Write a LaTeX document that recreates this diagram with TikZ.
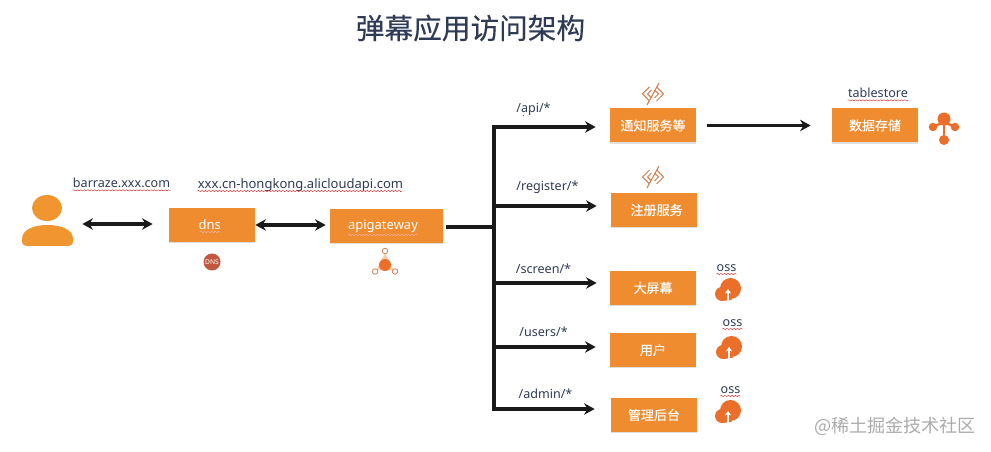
\documentclass[tikz,border=0pt]{standalone}
\usepackage{fontspec}
\setmainfont{Noto Sans}
\newfontfamily\cjk{Noto Sans CJK SC}
\newfontfamily\cjkheavy[FakeBold=0.25]{Noto Sans CJK SC}
\usetikzlibrary{arrows.meta,shadows,decorations.pathmorphing}
\definecolor{boxorange}{HTML}{EE8C2F}
\definecolor{personorange}{HTML}{F0952F}
\definecolor{iconorange}{HTML}{EB6F2B}
\definecolor{dnsred}{HTML}{C4573F}
\definecolor{chevron}{HTML}{D07F50}
\definecolor{inkblue}{HTML}{2F3B55}
\definecolor{linkblack}{HTML}{1A1A1A}
\definecolor{markgray}{HTML}{ABABAB}
\definecolor{ringbrown}{HTML}{CF8A62}
\definecolor{paleorange}{HTML}{F6CFA8}
\tikzset{
  every picture/.style={line join=round, >={Stealth[length=6pt,width=6.5pt]}},
  boxnode/.style={fill=boxorange,text=white,font=\fontsize{7.4}{9}\selectfont\cjkheavy,minimum width=1.72cm,minimum height=0.68cm,inner sep=0pt,drop shadow={shadow xshift=0pt,shadow yshift=-0.7pt,opacity=0.25}},
  lbl/.style={text=inkblue,font=\fontsize{7.15}{9}\selectfont,inner sep=0pt},
  link/.style={linkblack,line width=1.9pt},
  spell/.style={red!70!gray,line width=0.25pt,decorate,decoration={snake,amplitude=0.35pt,segment length=2pt}},
}
\begin{document}
\begin{tikzpicture}
\useasboundingbox (0,0) rectangle (19.820,9.040);
\node[font=\fontsize{16.3}{20}\selectfont\cjkheavy,text=inkblue,inner sep=0pt] (title) at (9.410,8.480) {弹幕应用访问架构};
\fill[personorange] (0.940,4.880) ellipse[x radius=0.300,y radius=0.260];
\fill[personorange] (0.560,4.120) .. controls (0.440,4.120) and (0.440,4.180) .. (0.440,4.260) .. controls (0.440,4.450) and (0.680,4.540) .. (0.950,4.540) .. controls (1.220,4.540) and (1.460,4.450) .. (1.460,4.260) .. controls (1.460,4.180) and (1.460,4.120) .. (1.340,4.120) -- cycle;
\node[minimum width=1.020cm,inner sep=0pt] (user) at (0.950,4.560) {};
\node[boxnode] (dns) at (4.240,4.540) {\hspace{-2.5pt}\rmfamily dns};
\node[boxnode,minimum width=2.260cm] (apigateway) at (7.730,4.520) {\hspace{-4pt}\rmfamily apigateway};
\node[boxnode] (notify) at (13.060,6.530) {通知服务等};
\node[boxnode] (store) at (17.500,6.530) {数据存储};
\node[boxnode] (register) at (13.080,4.840) {\hspace{3pt}注册服务};
\node[boxnode] (screen) at (13.060,3.280) {大屏幕};
\node[boxnode] (users) at (13.060,2.040) {用户};
\node[boxnode] (admin) at (13.080,0.740) {管理后台};
\node[lbl] (barraze) at (2.430,5.380) {barraze.xxx.com};
\node[lbl,font=\fontsize{7.42}{9}\selectfont] (aliapi) at (6.010,5.340) {xxx.cn-hongkong.alicloudapi.com};
\node[lbl] (apipath) at (10.670,6.860) {/api/*};
\node[lbl] (registerpath) at (10.950,5.300) {/register/*};
\node[lbl] (screenpath) at (10.870,3.660) {/screen/*};
\node[lbl] (userspath) at (10.870,2.400) {/users/*};
\node[lbl] (adminpath) at (10.910,1.160) {/admin/*};
\node[lbl] (tablestore) at (17.560,7.180) {tablestore};
\node[lbl] (oss1) at (14.530,3.680) {oss};
\node[lbl] (oss2) at (14.650,2.580) {oss};
\node[lbl] (oss3) at (14.610,1.240) {oss};
\node[font=\fontsize{10.3}{14}\selectfont\cjk,text=markgray,inner sep=0pt] (watermark) at (17.900,0.520) {@稀土掘金技术社区};
\foreach \n in {barraze,aliapi,tablestore,oss1,oss2,oss3}
  \draw[spell] ([yshift=-1.5pt]\n.base west) -- ([yshift=-1.5pt]\n.base east);
\draw[spell] ([xshift=4pt,yshift=-1.5pt]apipath.base west) -- ([xshift=-6pt,yshift=-1.5pt]apipath.base);
\draw[spell,white!70!red] (4.000,4.400) -- (4.420,4.400);
\draw[spell,white!70!red] (6.960,4.340) -- (8.360,4.340);
\draw[link,<->,shorten <=0.180cm,shorten >=0.320cm] (user.east) -- (user.east -| dns.west);
\draw[link,<->,shorten >=0.080cm] (dns.east) -- (dns.east -| apigateway.west);
\coordinate (busmid) at (9.880,4.500);
\coordinate (bustop) at (9.880,6.500);
\coordinate (busreg) at (9.880,4.920);
\coordinate (busscreen) at (9.880,3.380);
\coordinate (bususers) at (9.880,2.100);
\coordinate (busadmin) at (9.880,0.860);
\draw[link,shorten <=0.060cm,shorten >=0.040cm] (busmid -| apigateway.east) -- (busmid);
\draw[link,line cap=rect] (bustop) -- (busadmin);
\draw[link,->,shorten >=0.280cm] (bustop) -- (bustop -| notify.west);
\draw[link,->,shorten >=0.280cm] (busreg) -- (busreg -| register.west);
\draw[link,->,shorten >=0.260cm] (busscreen) -- (busscreen -| screen.west);
\draw[link,->,shorten >=0.280cm] (bususers) -- (bususers -| users.west);
\draw[link,->,shorten >=0.320cm] (busadmin) -- (busadmin -| admin.west);
\draw[link,->,shorten <=0.220cm,shorten >=0.420cm] (notify.east) -- (store.west);
\foreach \cx/\cy in {13.060/7.160,13.060/5.500}{
  \begin{scope}[shift={(\cx,\cy)},chevron,line width=0.6pt]
  \draw (-0.070,0.140) -- (-0.210,0.000) -- (-0.070,-0.140);
  \draw (-0.030,0.080) -- (-0.110,0.000) -- (-0.030,-0.080);
  \draw (0.070,0.140) -- (0.210,0.000) -- (0.070,-0.140);
  \draw (0.030,0.080) -- (0.110,0.000) -- (0.030,-0.080);
  \draw (-0.120,-0.220) -- (0.120,0.220);
  \end{scope}
}
\foreach \cx/\cy in {14.560/3.220,14.580/2.060,14.560/0.780}{
  \begin{scope}[shift={(\cx,\cy)}]
  \fill[iconorange] (0.050,0.050) circle[radius=0.210];
  \fill[iconorange] (-0.120,-0.060) circle[radius=0.140];
  \fill[iconorange] (-0.120,-0.200) -- (0.070,-0.180) -- (0.070,0.000) -- (-0.120,0.000) -- cycle;
  \draw[white,line width=0.9pt,-{Stealth[length=2.5pt,width=3.5pt]}] (0.000,-0.200) -- (0.000,0.040);
  \end{scope}
}
\fill[iconorange] (18.880,6.660) circle[radius=0.130];
\fill[iconorange] (18.660,6.500) circle[radius=0.085];
\fill[iconorange] (19.100,6.500) circle[radius=0.085];
\fill[iconorange] (18.880,6.240) circle[radius=0.100];
\draw[iconorange,line width=1.4pt] (18.660,6.500) -- (18.880,6.600) -- (19.100,6.500);
\draw[iconorange,line width=1.4pt] (18.880,6.600) -- (18.880,6.240);
\fill[dnsred] (4.240,3.800) circle[radius=0.170];
\node[text=white,inner sep=0pt,font=\fontsize{3.8}{4}\selectfont\bfseries] (dnsmark) at (4.240,3.800) {DNS};
\fill[paleorange] (7.700,3.980) -- (7.520,3.630) -- (7.880,3.630) -- cycle;
\fill[iconorange] (7.700,3.740) circle[radius=0.120];
\begin{scope}[ringbrown,line width=0.5pt]
\draw[fill=white] (7.700,4.020) circle[radius=0.055];
\draw[fill=white] (7.500,3.610) circle[radius=0.055];
\draw[fill=white] (7.900,3.610) circle[radius=0.055];
\end{scope}
\end{tikzpicture}
\end{document}
